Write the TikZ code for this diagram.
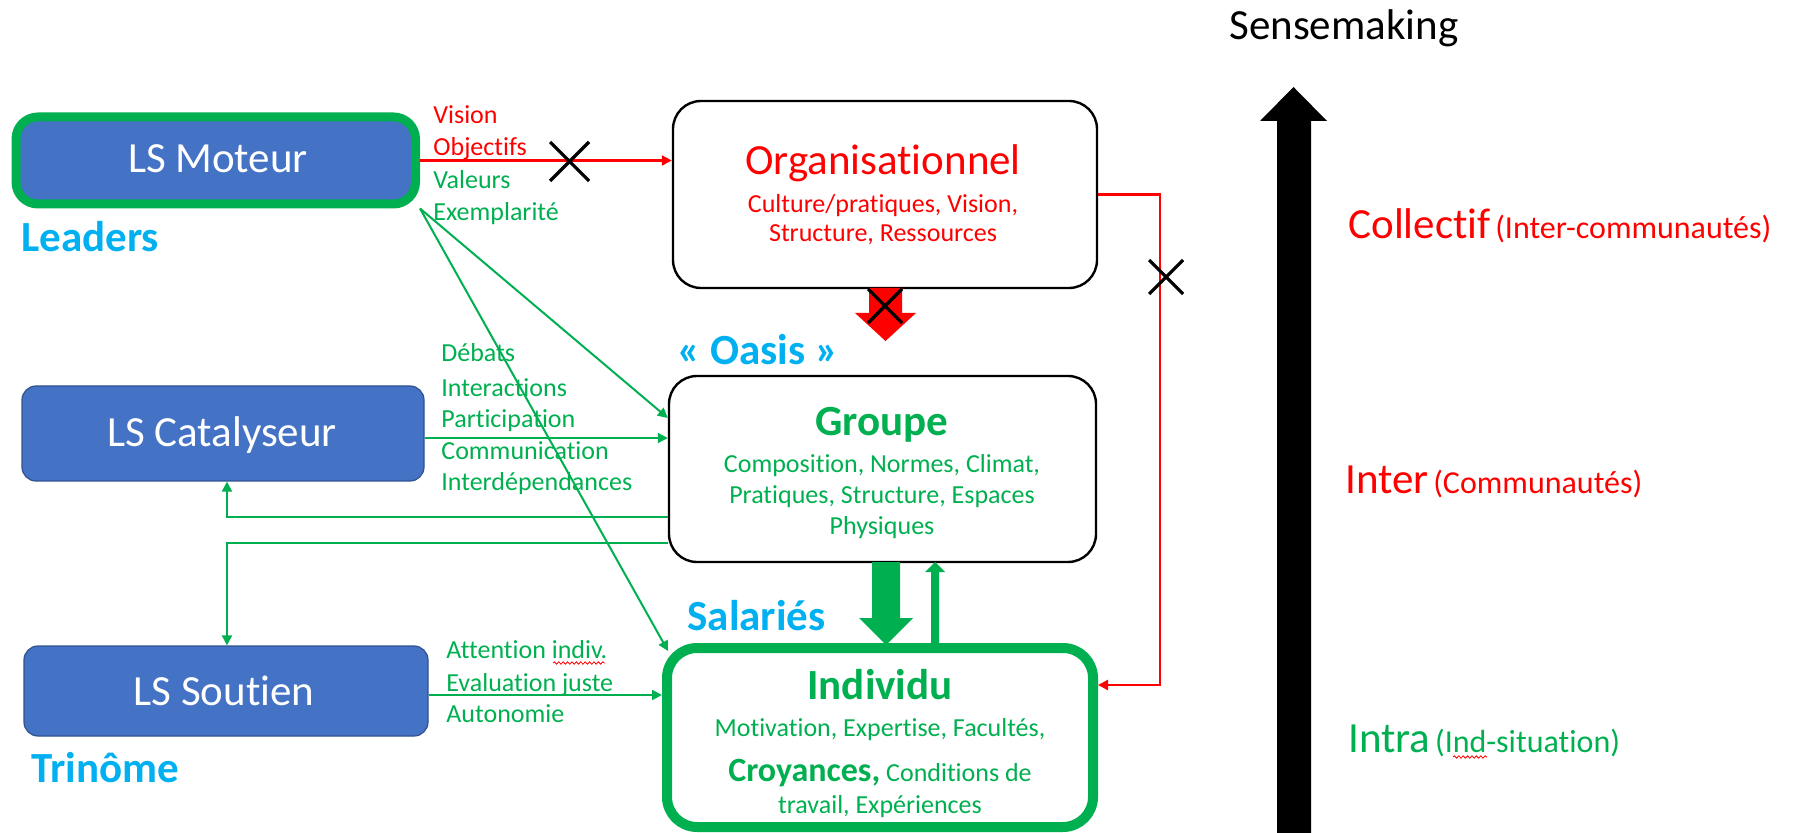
\documentclass[tikz,border=0pt]{standalone}
\usepackage{fontspec}
\setmainfont{Carlito}[Ligatures=NoCommon]
\usetikzlibrary{arrows.meta,calc,decorations.pathmorphing}
\definecolor{gr}{HTML}{00B050}
\definecolor{lb}{HTML}{00B0F0}
\definecolor{bf}{HTML}{4472C4}
\definecolor{bd}{HTML}{2F528F}
\definecolor{rd}{HTML}{FF0000}
\newcommand\bigtxt{\fontsize{21.5pt}{26pt}\selectfont}
\newcommand\smalltxt{\fontsize{13pt}{16pt}\selectfont}
\newcommand\midtxt{\fontsize{16pt}{19pt}\selectfont}
\newcommand\crtxt{\fontsize{17pt}{20pt}\selectfont}
\begin{document}
\begin{tikzpicture}[x=0.5pt,y=-0.5pt,
  lsbox/.style={draw=bd, line width=0.6pt, fill=bf, rounded corners=7pt, inner sep=0pt},
  lvbox/.style={draw=black, line width=1.2pt, rounded corners=14pt, inner sep=0pt, fill=white},
  lab/.style={anchor=base west, inner sep=0pt, font=\smalltxt},
  ctr/.style={anchor=base, inner sep=0pt},
  garrow/.style={draw=gr, line width=1pt, -{Triangle[length=5pt,width=5pt]}},
  rline/.style={draw=rd, line width=1.1pt},
  xmark/.style={draw=black, line width=1.6pt},
  wavy/.style={draw=rd, line width=0.4pt, decorate, decoration={snake, amplitude=0.6pt, segment length=2.2pt}}
]
\useasboundingbox (0,0) rectangle (1803,833);

% boxes
\node[lsbox, draw=gr, line width=4.5pt, rounded corners=11pt, minimum width=199.75pt, minimum height=43.5pt] (mot) at (215.75,160.5) {};
\node[lsbox, minimum width=201pt, minimum height=47.5pt] (cat) at (223,433.5) {};
\node[lsbox, minimum width=202pt, minimum height=45pt] (sou) at (226,691) {};
\node[lvbox, minimum width=212pt, minimum height=93.5pt] (org) at (885,194.5) {};
\node[lvbox, minimum width=213.5pt, minimum height=93pt] (grp) at (882.5,469) {};
\node[lvbox, draw=gr, line width=5pt, rounded corners=15pt, minimum width=213pt, minimum height=89.5pt] (ind) at (880,737.5) {};

% box texts
\node[ctr, text=white, font=\bigtxt] (tmot) at (218,173) {LS Moteur};
\node[ctr, text=white, font=\bigtxt] (tcat) at (222,447) {LS Catalyseur};
\node[ctr, text=white, font=\bigtxt] (tsou) at (224,705) {LS Soutien};

\node[ctr, text=rd, font=\bigtxt] (torg) at (883,175) {Organisationnel};
\node[ctr, text=rd, font=\smalltxt] (torg1) at (883,212.5) {Culture/pratiques, Vision,};
\node[ctr, text=rd, font=\smalltxt] (torg2) at (883,241.5) {Structure, Ressources};

\node[ctr, text=gr, font=\bigtxt\bfseries] (tgrp) at (882,436) {Groupe};
\node[ctr, text=gr, font=\smalltxt] (tgrp1) at (882,473) {Composition, Normes, Climat,};
\node[ctr, text=gr, font=\smalltxt] (tgrp2) at (882,503) {Pratiques, Structure, Espaces};
\node[ctr, text=gr, font=\smalltxt] (tgrp3) at (882,534) {Physiques};

\node[ctr, text=gr, font=\bigtxt\bfseries] (tind) at (880,699) {Individu};
\node[ctr, text=gr, font=\smalltxt] (tind1) at (880,736.5) {Motivation, Expertise, Facultés,};
\node[ctr, text=gr, font=\smalltxt] (tind2) at (880,781) {{\crtxt\bfseries Croyances,} Conditions de};
\node[ctr, text=gr, font=\smalltxt] (tind3) at (880,813.5) {travail, Expériences};

% blue titles
\node[anchor=base west, inner sep=0pt, text=lb, font=\bigtxt\bfseries] (leaders) at (21,252) {Leaders};
\node[anchor=base west, inner sep=0pt, text=lb, font=\bigtxt\bfseries] (trinome) at (31,782) {Trinôme};
\node[ctr, text=lb, font=\bigtxt\bfseries] (oasis) at (758,365) {« Oasis »};
\node[ctr, text=lb, font=\bigtxt\bfseries] (salaries) at (756.5,630) {Salariés};

% arrow labels
\node[lab, text=rd] (lv1) at (433,124) {Vision};
\node[lab, text=rd] (lv2) at (433,156) {Objectifs};
\node[lab, text=gr] (lv3) at (433,189) {Valeurs};
\node[lab, text=gr] (lv4) at (433,221) {Exemplarité};

\node[lab, text=gr] (lc1) at (441,361.5) {Débats};
\node[lab, text=gr] (lc2) at (441,396.5) {Interactions};
\node[lab, text=gr] (lc3) at (441,427.5) {Participation};
\node[lab, text=gr] (lc4) at (441,459.5) {Communication};
\node[lab, text=gr] (lc5) at (441,490.5) {Interdépendances};

\node[lab, text=gr] (ls1) at (446,658.5) {Attention indiv.};
\node[lab, text=gr] (ls2) at (446,691.5) {Evaluation juste};
\node[lab, text=gr] (ls3) at (446,722.5) {Autonomie};
\draw[wavy] (553,663) -- (605,663);

% right side
\node[ctr, text=black, font=\bigtxt] (sense) at (1344,40) {Sensemaking};
\node[anchor=base west, inner sep=0pt, text=rd] (coll) at (1348,239) {{\bigtxt Collectif} {\midtxt (Inter-communautés)}};
\node[anchor=base west, inner sep=0pt, text=rd] (inter) at (1345,494) {{\bigtxt Inter} {\midtxt (Communautés)}};
\node[anchor=base west, inner sep=0pt, text=gr] (intra) at (1348,752) {{\bigtxt Intra} {\midtxt (Ind-situation)}};
\draw[wavy] (1453,757) -- (1487,757);

% sensemaking arrow
\fill[black] (1277,833) -- (1277,121) -- (1260,121) -- (1293.5,87) -- (1327,121) -- (1311,121) -- (1311,833) -- cycle;

% red connectors
\draw[rline, -{Triangle[length=5pt,width=5pt]}] (mot.east) -- (org.west |- mot.east);
\draw[xmark] (550,142) -- (589,181) (550,181) -- (589,142);

\coordinate (rc) at (1160,685);
\draw[rline, -{Triangle[length=5pt,width=5pt]}] (org.east) -| (rc) -- (ind.east |- rc);
\draw[xmark] (1149,260) -- (1183,294) (1149,294) -- (1183,260);

% red block arrow (crossed)
\fill[rd] (869,288) -- (902,288) -- (902,313) -- (916,313) -- (885.5,341) -- (855,313) -- (869,313) -- cycle;
\draw[xmark] (868,289) -- (902,323) (868,323) -- (902,289);

% green block arrow and thin up arrow
\fill[gr] (872,562) -- (900,562) -- (900,618) -- (913,618) -- (886,645) -- (859,618) -- (872,618) -- cycle;
\fill[gr] (931,645) -- (931,572) -- (925,572) -- (935,562) -- (945,572) -- (939,572) -- (939,645) -- cycle;

% green connectors
\draw[garrow] (mot.south east) -- ($(grp.west)+(0,-51)$);
\draw[garrow] (mot.south east) -- ($(ind.north west)+(6,8)$);
\coordinate (yc) at (0,438);
\draw[garrow] (cat.east |- yc) -- (grp.west |- yc);
\coordinate (y1) at (0,517);
\coordinate (y2) at (0,543);
\coordinate (xv) at (227,0);
\draw[garrow] (grp.west |- y1) -| (xv |- cat.south);
\draw[garrow] (grp.west |- y2) -| (xv |- sou.north);
\coordinate (y3) at (0,695);
\draw[garrow] (sou.east |- y3) -- (ind.west |- y3);
\end{tikzpicture}
\end{document}
